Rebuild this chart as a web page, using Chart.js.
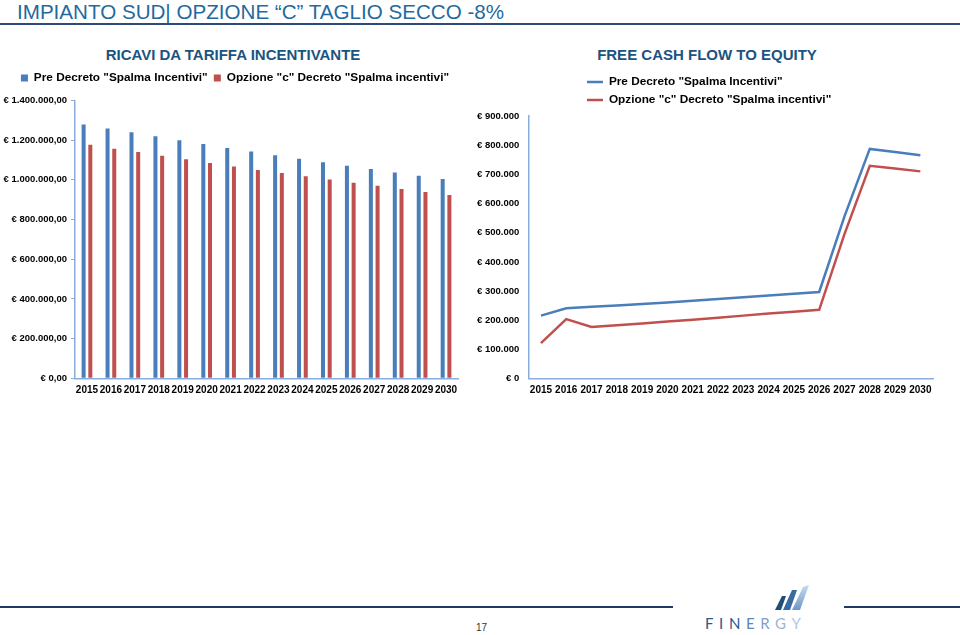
<!DOCTYPE html>
<html>
<head>
<meta charset="utf-8">
<title>Impianto Sud - Opzione C</title>
<script src="https://cdn.jsdelivr.net/npm/chart.js@4.4.1/dist/chart.umd.min.js"></script>
<style>
  body { margin: 0; background: #fff; font-family: "Liberation Sans", Arial, sans-serif; }
  #page { position: relative; width: 960px; height: 635px; overflow: hidden; }
  #heading { position: absolute; left: 17px; top: 0; font-size: 20.6px; line-height: 24px; color: #1F6A9E; white-space: nowrap; }
  #rule { position: absolute; left: 0; top: 23px; width: 960px; height: 2px; background: #2C4A7A; }
  .title { position: absolute; top: 46px; width: 300px; text-align: center; font-size: 15px; line-height: 18px; font-weight: bold; color: #1B5381; white-space: nowrap; }
  #ricaviWrap { position: absolute; left: 0; top: 65px; }
  #fcfeWrap { position: absolute; left: 470px; top: 65px; }
  .foot { position: absolute; top: 606px; height: 2px; background: #1F3864; }
  #pageNum { position: absolute; left: 476px; top: 622px; font-size: 10px; color: #333; }
  #logoText { position: absolute; left: 705px; top: 614px; font-family: Lato, "Open Sans", sans-serif; font-size: 15px; letter-spacing: 5.6px; }
  #logo { position: absolute; left: 770px; top: 580px; }
</style>
</head>
<body>
<div id="page">
  <div id="heading">IMPIANTO SUD| OPZIONE “C” TAGLIO SECCO -8%</div>
  <div id="rule"></div>
  <div class="title" style="left:83px">RICAVI DA TARIFFA INCENTIVANTE</div>
  <div class="title" style="left:557px">FREE CASH FLOW TO EQUITY</div>
  <div id="ricaviWrap"><canvas id="ricavi" width="470" height="340"></canvas></div>
  <div id="fcfeWrap"><canvas id="fcfe" width="490" height="340"></canvas></div>
  <div class="foot" style="left:0;width:673px"></div>
  <div class="foot" style="left:844px;width:116px"></div>
  <div id="pageNum">17</div>
  <svg id="logo" width="50" height="40" viewBox="770 580 50 40">
    <defs>
      <linearGradient id="blade" x1="0" y1="1" x2="0" y2="0">
        <stop offset="0" stop-color="#6F98C6"/>
        <stop offset="1" stop-color="#C9DBEE"/>
      </linearGradient>
    </defs>
    <polygon points="775,610 781,610 786,596 782,596" fill="#1F4E79"/>
    <polygon points="783,610 790,610 797,590 792,590" fill="#3A6AA0"/>
    <polygon points="792,610 800,610 809,585 803,587" fill="url(#blade)"/>
  </svg>
  <div id="logoText"><span style="color:#2B5A8C">FIN</span><span style="color:#5E86B5">E</span><span style="color:#7FA2C9">R</span><span style="color:#98B6D8">G</span><span style="color:#AFC7E2">Y</span></div>
</div>
<script>
// anni
const years = ['2015', '2016', '2017', '2018', '2019', '2020', '2021', '2022',
               '2023', '2024', '2025', '2026', '2027', '2028', '2029', '2030'];

// ricavi da tariffa incentivante (euro)
const ricaviPre = [1279000, 1258000, 1239000, 1219000, 1199000, 1180000, 1160000, 1142000,
                   1124000, 1106000, 1088000, 1071000, 1054000, 1037000, 1020000, 1004000];
const ricaviOpzC = [1177000, 1157000, 1140000, 1121000, 1103000, 1085000, 1067000, 1050000,
                    1034000, 1018000, 1001000, 985000, 970000, 954000, 938000, 923000];

// free cash flow to equity (euro)
const fcfePre = [216000, 241000, 246000, 251000, 256000, 261000, 267000, 273000,
                 279000, 285000, 291000, 297000, 556000, 787000, 776000, 765000];
const fcfeOpzC = [122000, 204000, 177000, 183000, 189000, 196000, 202000, 209000,
                  216000, 223000, 229000, 236000, 495000, 729000, 720000, 710000];

const labelPre = 'Pre Decreto "Spalma Incentivi"';
const labelOpzC = 'Opzione "c" Decreto "Spalma incentivi"';

const blue = '#4A7EBB';
const red = '#C0504D';
const axisColor = '#8AAEDB';

Chart.defaults.font.family = '"Liberation Sans", Arial, sans-serif';
Chart.defaults.font.weight = 'bold';
Chart.defaults.font.size = 9.5;
Chart.defaults.color = '#000';

function euro(v, decimals) {
  const s = String(Math.round(v)).replace(/\B(?=(\d{3})+(?!\d))/g, '.');
  return '€ ' + s + (decimals ? ',00' : '');
}

// fixes the legend height and lets it be moved sideways
const legendFit = {
  id: 'legendFit',
  beforeInit(chart, args, opts) {
    const lg = chart.legend;
    const fit = lg.fit;
    lg.fit = function () {
      fit.call(this);
      this.height = opts.height;
    };
  },
  afterLayout(chart, args, opts) {
    const lg = chart.legend;
    if (opts.left != null) {
      const w = lg.right - lg.left;
      lg.left = opts.left;
      lg.right = opts.left + w;
    }
  }
};

new Chart(document.getElementById('ricavi'), {
  type: 'bar',
  data: {
    labels: years,
    datasets: [
      { label: labelPre, data: ricaviPre, backgroundColor: blue },
      { label: labelOpzC, data: ricaviOpzC, backgroundColor: red }
    ]
  },
  options: {
    responsive: false,
    animation: false,
    categoryPercentage: 0.56,
    barPercentage: 0.6,
    layout: { padding: { top: 0.9, right: 12, bottom: 0, left: 0 } },
    plugins: {
      legendFit: { height: 34.5, left: 6 },
      legend: {
        position: 'top',
        labels: { boxWidth: 7, boxHeight: 7, padding: 6.2, font: { size: 11.8 } }
      },
      tooltip: { enabled: false }
    },
    scales: {
      x: {
        grid: { display: false, drawTicks: false },
        border: { color: axisColor, width: 1.5 },
        ticks: { padding: 6, maxRotation: 0, autoSkip: false, font: { size: 10 } },
        afterFit(scale) { scale.height = 26.7; }
      },
      y: {
        min: 0,
        max: 1400000,
        grid: { drawOnChartArea: false, drawTicks: true, tickLength: 4, color: axisColor },
        border: { color: axisColor, width: 1.5 },
        ticks: { stepSize: 200000, padding: 4, callback: v => euro(v, true) },
        afterFit(scale) { scale.width = 75; }
      }
    }
  },
  plugins: [legendFit]
});

new Chart(document.getElementById('fcfe'), {
  type: 'line',
  data: {
    labels: years,
    datasets: [
      { label: labelPre, data: fcfePre, borderColor: blue, backgroundColor: blue, borderWidth: 2.5 },
      { label: labelOpzC, data: fcfeOpzC, borderColor: red, backgroundColor: red, borderWidth: 2.5 }
    ]
  },
  options: {
    responsive: false,
    animation: false,
    elements: {
      line: { tension: 0 },
      point: { radius: 0 }
    },
    layout: { padding: { top: 4.9, right: 27, bottom: 0, left: 0 } },
    plugins: {
      legendFit: { height: 46, left: 110.8 },
      legend: {
        position: 'top',
        align: 'start',
        fullSize: false,
        labels: { usePointStyle: true, pointStyle: 'line', pointStyleWidth: 16, padding: 6.2, font: { size: 11.8 } }
      },
      tooltip: { enabled: false }
    },
    scales: {
      x: {
        offset: true,
        grid: { display: false, drawTicks: false },
        border: { color: axisColor, width: 1.5 },
        ticks: { padding: 6, maxRotation: 0, autoSkip: false, font: { size: 10 } },
        afterFit(scale) { scale.height = 26.3; }
      },
      y: {
        min: 0,
        max: 900000,
        grid: { display: false, drawTicks: false },
        border: { color: axisColor, width: 1.5 },
        ticks: { stepSize: 100000, padding: 9, callback: v => euro(v, false) },
        afterFit(scale) { scale.width = 58.3; }
      }
    }
  },
  plugins: [legendFit]
});
</script>
</body>
</html>
